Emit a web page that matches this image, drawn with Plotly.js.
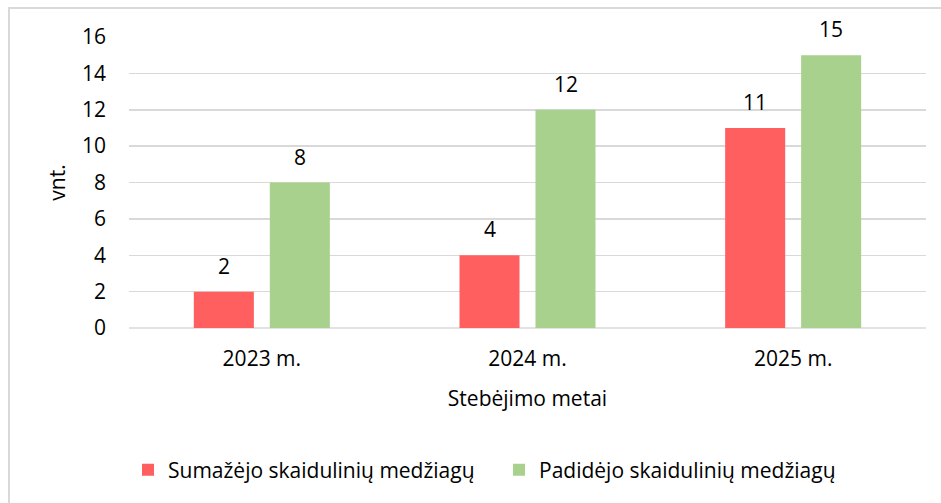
<!DOCTYPE html>
<html>
<head>
<meta charset="utf-8">
<script src="https://cdn.plot.ly/plotly-3.0.1.min.js"></script>
<style>html,body{margin:0;padding:0;background:#fff;}#chart{width:941px;height:503px;}</style>
</head>
<body>
<div id="chart"></div>
<script>
const categories = ["2023 m.", "2024 m.", "2025 m."];
const seriesNames = ["Sumažėjo skaidulinių medžiagų", "Padidėjo skaidulinių medžiagų"];
const decreased = [2, 4, 11];
const increased = [8, 12, 15];
const yTicks = [0, 2, 4, 6, 8, 10, 12, 14, 16];

const FONT = "Open Sans, sans-serif";
const FS = 21;
const traces = [
  {type: "bar", name: seriesNames[0], x: categories, y: decreased,
   marker: {color: "#FF5F5F"}, hoverinfo: "none"},
  {type: "bar", name: seriesNames[1], x: categories, y: increased,
   marker: {color: "#A9D18E"}, hoverinfo: "none"}
];

const L = 129, R = 926, T = 37, B = 328, W = 941, H = 503;
const px = v => (v - L) / (R - L);
const py = v => (B - v) / (B - T);

// value labels, placed through the axes (category + value), shifted to the bar slot
const slotShift = 38;
const annotations = [];
[decreased, increased].forEach((vals, s) => {
  vals.forEach((v, i) => {
    annotations.push({x: categories[i], y: v, xref: "x", yref: "y", text: String(v),
      showarrow: false, xanchor: "center", yanchor: "bottom",
      xshift: s === 0 ? -slotShift : slotShift, yshift: 10,
      font: {family: FONT, size: FS, color: "#000"}});
  });
});

const layout = {
  width: W, height: H,
  margin: {l: L, r: W - R, t: T, b: H - B, pad: 0},
  paper_bgcolor: "#fff", plot_bgcolor: "#fff",
  font: {family: FONT, size: FS, color: "#000"},
  barmode: "group", bargap: 0.428, bargroupgap: 0.21,
  showlegend: true,
  legend: {orientation: "h", x: px(128), xanchor: "left", y: py(470), yanchor: "middle",
           font: {family: FONT, size: FS, color: "#000"}, traceorder: "normal", itemclick: false,
           entrywidth: 326, entrywidthmode: "pixels"},
  xaxis: {type: "category", showgrid: false, zeroline: false, showline: false, ticks: "",
          ticklabelstandoff: 16, tickfont: {family: FONT, size: FS, color: "#000"},
          title: {text: "Stebėjimo metai", font: {family: FONT, size: FS, color: "#000"}, standoff: 20}},
  yaxis: {range: [0, 16], tickvals: yTicks, ticktext: yTicks.map(String), showgrid: true,
          gridcolor: "#d9d9d9", gridwidth: 1.5, zeroline: false, showline: false, ticks: "",
          ticklabelstandoff: 22, tickfont: {family: FONT, size: FS, color: "#000"},
          title: {text: "vnt.", font: {family: FONT, size: FS, color: "#000"}, standoff: 10}},
  annotations: annotations,
  shapes: [
    {type: "line", xref: "paper", yref: "paper", x0: px(9), x1: px(9), y0: py(H + 10), y1: py(7),
     line: {color: "#d9d9d9", width: 2}},
    {type: "line", xref: "paper", yref: "paper", x0: px(8), x1: px(W + 10), y0: py(8), y1: py(8),
     line: {color: "#d9d9d9", width: 2}},
    {type: "line", xref: "paper", yref: "paper", x0: 0, x1: 1, y0: 0, y1: 0,
     line: {color: "#d9d9d9", width: 1.5}, layer: "below"}
  ]
};

Plotly.newPlot("chart", traces, layout, {staticPlot: true, displayModeBar: false});
</script>
</body>
</html>
